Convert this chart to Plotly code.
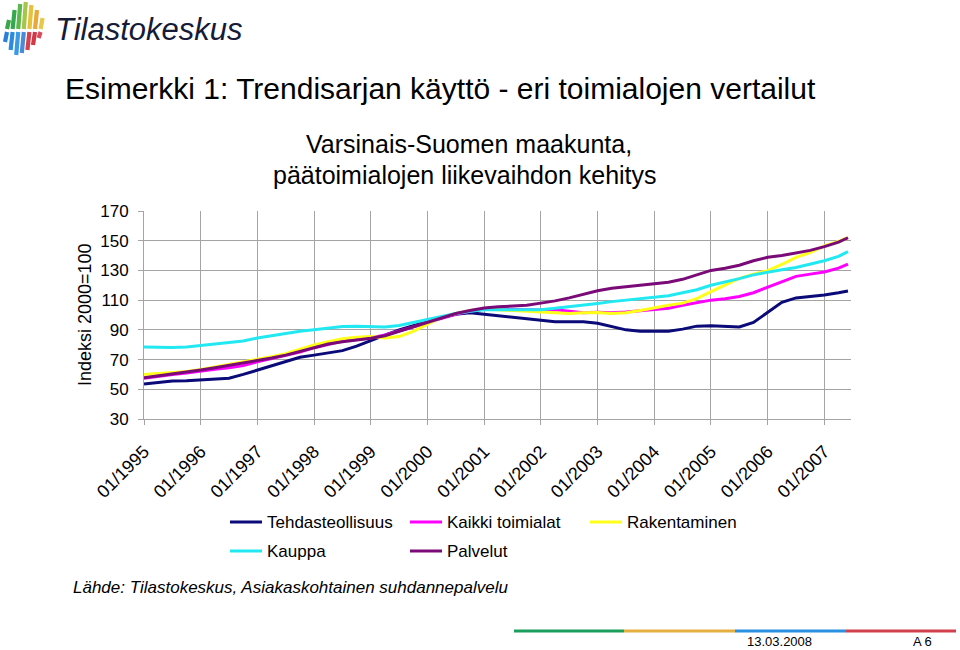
import plotly.graph_objects as go

W, H = 960, 650
L, R, T, B = 144, 851, 211, 419   # plot area in pixels

# ---------------- data ----------------
periods = [1995 + q / 4 for q in range(50)] + [2007 + 5 / 12]
tick_years = list(range(1995, 2008))
tick_labels = ["01/%d" % y for y in tick_years]
y_ticks = [30, 50, 70, 90, 110, 130, 150, 170]

series_names = ["Tehdasteollisuus", "Kaikki toimialat", "Rakentaminen", "Kauppa", "Palvelut"]
series_colors = ["#0a0a78", "#ff00ff", "#ffff1a", "#22e8f2", "#7a0a78"]

tehdas = [53.5, 54.5, 55.5, 55.8, 56.3, 56.5, 57.5, 60.0, 63.0, 66.0, 69.0, 71.5,
          73.0, 74.5, 76.0, 79.0, 83.0, 86.5, 90.0, 93.0, 95.5, 98.5, 100.5, 101.5,
          100.5, 99.5, 98.5, 97.5, 96.5, 95.5, 95.5, 95.5, 94.5, 92.5, 90.0, 89.0,
          88.8, 89.0, 90.5, 92.5, 92.8, 92.5, 92.0, 95.0, 102.0, 108.5, 111.5, 112.5,
          113.5, 115.0, 116.2]
kaikki = [57.5, 59.0, 60.0, 61.0, 62.5, 63.5, 64.5, 66.0, 68.5, 70.5, 72.5, 75.0,
          78.0, 80.5, 82.5, 83.5, 84.5, 86.5, 89.0, 92.0, 95.0, 98.0, 100.5, 102.5,
          104.0, 104.0, 103.5, 103.5, 103.3, 103.5, 102.5, 101.5, 101.8, 101.5, 102.0, 103.0,
          104.0, 104.5, 106.5, 108.5, 110.0, 111.0, 112.5, 115.0, 118.5, 122.5, 126.0, 127.5,
          129.0, 131.5, 134.3]
rakent = [60.0, 60.5, 61.0, 62.0, 63.4, 65.0, 67.0, 68.5, 70.2, 72.0, 74.0, 77.0,
          79.8, 82.0, 84.0, 85.0, 85.5, 84.5, 85.5, 89.0, 94.0, 98.5, 101.0, 103.0,
          104.0, 103.5, 103.0, 102.5, 102.2, 101.5, 101.0, 101.5, 101.6, 101.0, 101.5, 103.0,
          105.0, 106.5, 108.0, 111.0, 115.7, 120.0, 124.7, 127.5, 129.8, 134.0, 138.8, 142.0,
          146.5, 149.5, 152.0]
kauppa = [78.5, 78.3, 78.2, 78.5, 79.5, 80.0, 81.0, 82.5, 84.5, 86.0, 88.0, 89.0,
          90.0, 91.0, 92.3, 92.5, 92.3, 92.0, 93.0, 95.0, 97.5, 99.5, 101.0, 102.5,
          103.5, 103.5, 103.5, 103.5, 103.5, 104.5, 105.5, 106.5, 107.8, 109.0, 110.0, 110.8,
          111.5, 113.0, 115.0, 117.0, 120.0, 122.0, 124.5, 127.0, 129.0, 130.5, 132.0, 134.0,
          136.5, 139.5, 142.6]
palvelut = [57.8, 59.0, 60.5, 61.5, 63.0, 64.5, 66.0, 67.5, 69.5, 71.0, 73.0, 75.5,
            78.0, 80.5, 82.0, 83.0, 84.3, 86.0, 89.0, 92.0, 95.5, 98.5, 101.0, 103.0,
            104.7, 105.5, 106.0, 106.5, 108.0, 109.5, 111.5, 114.0, 116.3, 118.0, 119.0, 120.0,
            120.5, 122.0, 124.0, 127.0, 130.0, 131.5, 133.5, 136.5, 138.8, 140.0, 141.5, 143.5,
            146.0, 149.0, 152.0]
series_values = [tehdas, kaikki, rakent, kauppa, palvelut]

FONT = "Liberation Sans, Arial, sans-serif"


def px(x):
    return (x - L) / (R - L)


def py(y):
    return (B - y) / (B - T)


fig = go.Figure()
for name, col, vals in zip(series_names, series_colors, series_values):
    fig.add_trace(go.Scatter(x=periods, y=vals, name=name, mode="lines",
                             line=dict(color=col, width=3), showlegend=False))

shapes = []
annotations = []

# ---- manual legend ----
legend_pos = [(230, 522), (410, 522), (590, 522), (230, 551), (410, 551)]
for (lx, ly), name, col in zip(legend_pos, series_names, series_colors):
    shapes.append(dict(type="line", xref="paper", yref="paper",
                       x0=px(lx), x1=px(lx + 32), y0=py(ly), y1=py(ly),
                       line=dict(color=col, width=3)))
    annotations.append(dict(text=name, xref="paper", yref="paper", x=px(lx + 35), y=py(ly),
                            xanchor="left", yanchor="middle", showarrow=False,
                            font=dict(size=17, color="black", family=FONT)))

# ---- footer bar ----
footer_cols = ["#1a9e5c", "#e3b040", "#2a90e0", "#d2404e"]
fx = [514, 624, 735, 846, 956]
for i, c in enumerate(footer_cols):
    shapes.append(dict(type="line", xref="paper", yref="paper",
                       x0=px(fx[i]), x1=px(fx[i + 1]), y0=py(631), y1=py(631),
                       line=dict(color=c, width=3)))

# ---- logo bars ----
logo_up = [("#3aa64a", 20), ("#34a84c", 10), ("#5cb84a", 4), ("#a6c64a", 2),
           ("#e6c23c", 5), ("#e8a83a", 10), ("#e8c84a", 18)]
logo_dn = [("#2a7fd8", 42), ("#2a8ae0", 50), ("#3a9ae6", 55), ("#4a8ad8", 53),
           ("#d8404c", 50), ("#d03848", 45), ("#d84a58", 38)]
for i in range(7):
    bx = 7 + 5.6 * i
    cu, yt = logo_up[i]
    cd, yb = logo_dn[i]
    shapes.append(dict(type="line", xref="paper", yref="paper",
                       x0=px(bx), x1=px(bx + 2), y0=py(29), y1=py(yt),
                       line=dict(color=cu, width=4.2)))
    shapes.append(dict(type="line", xref="paper", yref="paper",
                       x0=px(bx - 2), x1=px(bx), y0=py(yb), y1=py(32),
                       line=dict(color=cd, width=4.2)))

annotations += [
    dict(text="<i>Tilastokeskus</i>", xref="paper", yref="paper", x=px(53), y=py(29),
         xanchor="left", yanchor="middle", showarrow=False,
         font=dict(size=31, color="#161b38", family=FONT)),
    dict(text="Esimerkki 1: Trendisarjan käyttö - eri toimialojen vertailut",
         xref="paper", yref="paper", x=px(63), y=py(88), xanchor="left", yanchor="middle",
         showarrow=False, font=dict(size=30, color="black", family=FONT)),
    dict(text="Varsinais-Suomen maakunta,", xref="paper", yref="paper", x=px(469), y=py(144),
         xanchor="center", yanchor="middle", showarrow=False,
         font=dict(size=25, color="black", family=FONT)),
    dict(text="päätoimialojen liikevaihdon kehitys", xref="paper", yref="paper", x=px(465),
         y=py(175), xanchor="center", yanchor="middle", showarrow=False,
         font=dict(size=25, color="black", family=FONT)),
    dict(text="Indeksi 2000=100", xref="paper", yref="paper", x=px(85), y=py(315),
         xanchor="center", yanchor="middle", textangle=-90, showarrow=False,
         font=dict(size=18, color="black", family=FONT)),
    dict(text="<i>Lähde: Tilastokeskus, Asiakaskohtainen suhdannepalvelu</i>",
         xref="paper", yref="paper", x=px(71), y=py(587), xanchor="left", yanchor="middle",
         showarrow=False, font=dict(size=17, color="black", family=FONT)),
    dict(text="13.03.2008", xref="paper", yref="paper", x=px(745), y=py(641),
         xanchor="left", yanchor="middle", showarrow=False,
         font=dict(size=13, color="black", family=FONT)),
    dict(text="A 6", xref="paper", yref="paper", x=px(911), y=py(641),
         xanchor="left", yanchor="middle", showarrow=False,
         font=dict(size=13, color="black", family=FONT)),
]

GRID = "#a4a4a4"
fig.update_layout(
    width=W, height=H,
    margin=dict(l=L, r=W - R, t=T, b=H - B, pad=0),
    paper_bgcolor="white", plot_bgcolor="white",
    font=dict(family=FONT, color="black"),
    shapes=shapes, annotations=annotations,
    showlegend=False,
    xaxis=dict(range=[1995, 2007.47], tickvals=tick_years, ticktext=tick_labels,
               tickangle=-45, showgrid=True, gridcolor=GRID, gridwidth=1,
               ticks="outside", ticklen=5, tickcolor=GRID,
               showline=True, linecolor=GRID, linewidth=1, ticklabelstandoff=9,
               tickfont=dict(size=18, color="black", family=FONT), zeroline=False),
    yaxis=dict(range=[30, 170], tickvals=y_ticks, showgrid=True, gridcolor=GRID, gridwidth=1,
               ticks="outside", ticklen=5, tickcolor=GRID,
               showline=True, linecolor=GRID, linewidth=1, ticklabelstandoff=6,
               tickfont=dict(size=17, color="black", family=FONT), zeroline=False),
)

fig.write_html("out.html", config={"displayModeBar": False},
               post_script="document.body.style.margin='0px';document.body.style.overflow='hidden';")
